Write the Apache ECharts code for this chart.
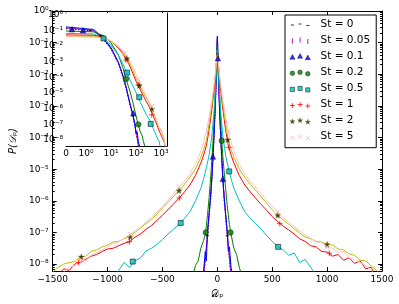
<!DOCTYPE html>
<html><head><meta charset="utf-8">
<script src="https://cdn.jsdelivr.net/npm/echarts@6/dist/echarts.min.js"></script>
<style>html,body{margin:0;padding:0;background:#fff}#c{width:399px;height:304px}</style>
</head><body><div id="c"></div>
<script>
// ---------- tick labels ----------
const xTicks = [-1500, -1000, -500, 0, 500, 1000, 1500];
const xTickLabels = ['\u22121500', '\u22121000', '\u2212500', '0', '500', '1000', '1500'];
const yTickValues = [1e-8, 1e-7, 1e-6, 1e-5, 1e-4, 1e-3, 1e-2, 1e-1, 1];
const yTickLabels = ['10⁻⁸', '10⁻⁷', '10⁻⁶', '10⁻⁵', '10⁻⁴', '10⁻³', '10⁻²', '10⁻¹', '10⁰'];
const insetXTickValues = [0, 1, 10, 100, 1000];
const insetXTickLabels = ['0', '10⁰', '10¹', '10²', '10³'];
const stNames = ['St = 0', 'St = 0.05', 'St = 0.1', 'St = 0.2', 'St = 0.5', 'St = 1', 'St = 2', 'St = 5'];

// ---------- D_p grids ----------
const narrowGrid = [-250,-225,-200,-175,-150,-125,-110,-100,-90,-75,-60,-50,-40,-30,-20,-10,-5,-2,0,2,5,10,20,30,40,50,60,75,90,100,110,125,150,175,200,225,250];
const wideGrid = [-1500,-1450,-1400,-1350,-1300,-1250,-1200,-1150,-1100,-1050,-1000,-950,-900,-850,-800,-750,-700,-650,-600,-550,-500,-450,-400,-350,-300,
  -250,-200,-150,-125,-100,-75,-50,-30,-20,-10,-5,-2,0,2,5,10,20,30,50,75,100,125,150,200,250,
  300,350,400,450,500,550,600,650,700,750,800,850,900,950,1000,1050,1100,1150,1200,1250,1300,1350,1400,1450,1500];

// ---------- P(D_p) per Stokes number ----------
const pSt0 = [null,null,null,null,1.6e-9,4.0e-9,1.26e-8,3.2e-8,7.9e-8,3.2e-7,1.26e-6,4.5e-6,2.0e-5,1.0e-4,7.1e-4,6.3e-3,2.5e-2,8.9e-2,0.126,8.9e-2,2.5e-2,6.3e-3,7.1e-4,1.0e-4,2.0e-5,4.5e-6,1.26e-6,3.2e-7,7.9e-8,3.2e-8,1.4e-8,4.5e-9,1.6e-9,null,null,null,null];
const pSt005 = [null,null,null,null,2.0e-9,5.0e-9,1.6e-8,3.5e-8,1.0e-7,4.0e-7,1.6e-6,5.6e-6,2.5e-5,1.26e-4,7.9e-4,7.1e-3,2.8e-2,0.1,0.141,0.1,2.8e-2,7.1e-3,7.9e-4,1.26e-4,2.5e-5,5.6e-6,1.6e-6,4.0e-7,1.0e-7,4.0e-8,1.6e-8,4.0e-9,2.0e-9,null,null,null,null];
const pSt01 = [null,null,null,null,2.5e-9,6.3e-9,2.5e-8,1.26e-8,1.0e-7,4.0e-7,1.8e-6,5.6e-6,2.5e-5,1.26e-4,8.9e-4,7.9e-3,3.2e-2,0.112,0.162,0.112,3.2e-2,7.9e-3,8.9e-4,1.26e-4,2.5e-5,5.0e-6,1.6e-6,4.0e-7,1.12e-7,2.5e-8,3.5e-8,7.9e-9,2.5e-9,null,null,null,null];
const pSt02 = [null,4.0e-9,8.9e-9,1.26e-8,3.2e-8,5.6e-8,8.9e-8,1.6e-7,3.5e-7,1.26e-6,6.3e-6,2.0e-5,7.1e-5,4.0e-4,2.5e-3,1.6e-2,4.5e-2,7.9e-2,8.9e-2,7.9e-2,4.5e-2,1.6e-2,2.5e-3,4.0e-4,7.9e-5,2.5e-5,1.0e-5,2.5e-6,7.1e-7,3.5e-7,1.8e-7,8.9e-8,3.2e-8,2.0e-8,7.9e-9,4.0e-9,null];
const pSt05 = [null,null,null,null,null,null,null,null,null,null,2.0e-9,4.0e-9,6.3e-9,1.12e-8,7.9e-9,1.26e-8,1.58e-8,2.6e-8,3.16e-8,4.2e-8,6.0e-8,8.9e-8,1.26e-7,1.78e-7,2.8e-7,
  4.5e-7,1.0e-6,2.5e-6,5.0e-6,1.12e-5,2.8e-5,1.12e-4,7.1e-4,2.5e-3,1.12e-2,3.16e-2,5.8e-2,6.3e-2,5.8e-2,3.16e-2,1.12e-2,2.5e-3,7.1e-4,1.12e-4,2.8e-5,1.12e-5,5.0e-6,2.5e-6,1.0e-6,4.5e-7,
  2.8e-7,1.9e-7,1.26e-7,7.9e-8,5.2e-8,3.5e-8,2.8e-8,1.9e-8,2.24e-8,1.12e-8,1.41e-8,7.9e-9,4.5e-9,2.5e-9,null,null,null,null,null,null,null,null,null,null,null];
const pSt1 = [2.5e-9,4.5e-9,7.1e-9,6.3e-9,1.0e-8,1.12e-8,1.41e-8,1.78e-8,2.0e-8,2.5e-8,3.0e-8,3.16e-8,3.8e-8,4.5e-8,5.1e-8,7.1e-8,8.9e-8,1.26e-7,1.66e-7,2.4e-7,3.5e-7,5.2e-7,7.9e-7,1.2e-6,1.9e-6,
  3.16e-6,6.3e-6,1.58e-5,2.8e-5,5.6e-5,1.78e-4,7.9e-4,3.16e-3,7.1e-3,2.0e-2,3.5e-2,4.8e-2,5.0e-2,4.8e-2,3.5e-2,2.0e-2,7.1e-3,3.16e-3,7.9e-4,1.78e-4,5.6e-5,2.8e-5,1.58e-5,6.3e-6,3.16e-6,
  1.9e-6,1.2e-6,7.6e-7,5.0e-7,3.16e-7,2.2e-7,1.58e-7,1.2e-7,8.9e-8,6.3e-8,5.2e-8,3.8e-8,3.5e-8,2.5e-8,2.4e-8,1.78e-8,2.0e-8,1.32e-8,1.58e-8,1.05e-8,1.26e-8,7.1e-9,7.9e-9,4.0e-9,3.16e-9];
const pSt2 = [5.6e-9,7.9e-9,1.0e-8,1.12e-8,1.2e-8,1.66e-8,1.78e-8,2.5e-8,2.8e-8,3.5e-8,4.0e-8,5.0e-8,5.2e-8,6.3e-8,7.2e-8,1.0e-7,1.38e-7,1.9e-7,2.6e-7,3.8e-7,6.0e-7,8.9e-7,1.38e-6,2.1e-6,3.3e-6,
  5.6e-6,1.0e-5,2.4e-5,4.2e-5,7.9e-5,2.8e-4,1.12e-3,4.0e-3,7.9e-3,2.0e-2,3.3e-2,4.0e-2,4.2e-2,4.0e-2,3.3e-2,2.0e-2,7.9e-3,4.0e-3,1.12e-3,2.8e-4,7.9e-5,4.2e-5,2.4e-5,1.0e-5,5.6e-6,
  3.3e-6,2.1e-6,1.32e-6,8.3e-7,5.2e-7,3.5e-7,2.5e-7,1.82e-7,1.32e-7,9.5e-8,7.2e-8,6.3e-8,5.2e-8,5.0e-8,4.2e-8,4.0e-8,3.0e-8,2.8e-8,2.1e-8,1.9e-8,1.32e-8,1.26e-8,8.9e-9,6.3e-9,4.5e-9];
const pSt5 = [2.5e-9,4.0e-9,5.6e-9,7.9e-9,8.9e-9,1.32e-8,1.26e-8,1.9e-8,2.24e-8,2.8e-8,3.5e-8,4.5e-8,5.0e-8,6.6e-8,8.3e-8,1.12e-7,1.51e-7,2.1e-7,3.0e-7,4.4e-7,6.6e-7,1.05e-6,1.66e-6,2.75e-6,4.2e-6,
  7.1e-6,1.41e-5,3.8e-5,7.1e-5,1.58e-4,4.5e-4,1.58e-3,5.0e-3,1.0e-2,2.1e-2,3.16e-2,3.6e-2,3.8e-2,3.6e-2,3.16e-2,2.1e-2,1.0e-2,5.0e-3,1.58e-3,4.5e-4,1.58e-4,7.1e-5,3.8e-5,1.41e-5,7.1e-6,
  4.2e-6,2.6e-6,1.66e-6,1.05e-6,6.6e-7,4.4e-7,3.0e-7,2.1e-7,1.51e-7,1.12e-7,8.3e-8,6.6e-8,5.0e-8,4.7e-8,3.5e-8,3.16e-8,2.4e-8,2.5e-8,1.58e-8,1.41e-8,1.12e-8,8.9e-9,6.3e-9,4.5e-9,3.16e-9];

// ---------- marker points (main panel) ----------
const mkSt0 = [[-90, 7.9e-8], [90, 7.9e-8]];
const mkSt005 = [[-40, 2.5e-5], [60, 1.6e-6]];
const mkSt01 = [[-40, 2.5e-5], [5, 3.2e-2], [50, 5.0e-6]];
const mkSt02 = [[-105, 1.0e-7], [40, 7.9e-5], [120, 1.0e-7]];
const mkSt05 = [[-771, 1.2e-8], [-334, 2.0e-7], [108, 8.5e-6], [554, 3.5e-8]];
const mkSt1 = [[-1264, 1.12e-8], [-800, 5.1e-8], [-346, 1.23e-6], [105, 4.9e-5], [569, 1.9e-7], [1020, 2.2e-8]];
const mkSt2 = [[-1240, 1.7e-8], [-794, 7.2e-8], [-349, 2.1e-6], [94, 8.5e-5], [550, 3.5e-7], [1000, 4.2e-8]];
const mkSt5 = [[-1230, 1.3e-8], [-790, 8.5e-8], [-346, 2.8e-6], [100, 1.58e-4], [550, 4.4e-7], [1000, 3.5e-8]];

// ---------- marker points (inset, D_p > 0) ----------
const inSt0 = [[0.3, 0.11], [1.5, 0.095], [4, 4.5e-2]];
const inSt01 = [[0.3, 0.115], [0.85, 0.1], [78, 5.1e-7]];
const inSt02 = [[40, 7.9e-5], [124, 1.0e-7]];
const inSt05 = [[5, 3.0e-2], [44, 2.0e-4], [135, 5.4e-6], [387, 1.07e-7]];
const inSt1 = [[40, 1.26e-3], [124, 3.2e-5], [427, 4.0e-7]];
const inSt2 = [[43, 1.6e-3], [135, 3.0e-5], [430, 1.0e-6]];
const inSt5 = [[36, 3.4e-3], [123, 7.5e-5], [427, 1.3e-6]];

// ---------- chart ----------
const FONT = 'DejaVu Sans';
const yMainMin = 6.0e-9, yMainMax = 1;
const yInMin = 4.2e-9, yInMax = 1.25;
const LIN = 0.8;
const symlog = d => d <= 1 ? LIN * d : LIN + Math.log10(d);
const clean = v => (v == null ? '-' : v);
const pairs = (grid, vals) => grid.map((d, i) => [d, clean(vals[i])]);
const insetPairs = (grid, vals) => grid.map((d, i) => [d, vals[i]]).filter(p => p[0] >= 0).map(p => [symlog(p[0]), clean(p[1])]);
const insetPts = pts => pts.map(p => [symlog(p[0]), p[1]]);

const minorVals = (lo, hi) => { const out = []; for (let e = -10; e <= 0; e++) for (let m = 2; m <= 9; m++) { const v = m * Math.pow(10, e); if (v > lo && v < hi) out.push(v); } return out; };
const yLabelFmt = v => { const e = Math.round(Math.log10(v)); const i = yTickValues.findIndex(t => Math.round(Math.log10(t)) === e); return i >= 0 ? yTickLabels[i] : ''; };
const xLabelFmt = v => { const i = xTicks.findIndex(t => Math.abs(t - v) < 1e-6); return i >= 0 ? xTickLabels[i] : ''; };
const inXFmt = v => { const i = insetXTickValues.findIndex(t => Math.abs(symlog(t) - v) < 1e-6); return i >= 0 ? insetXTickLabels[i] : ''; };

const lines = [
  { grid: narrowGrid, vals: pSt0, color: '#000000', type: [1.5, 1.5] },
  { grid: narrowGrid, vals: pSt005, color: '#bf00bf', type: 'solid' },
  { grid: narrowGrid, vals: pSt01, color: '#0000ff', type: 'solid' },
  { grid: narrowGrid, vals: pSt02, color: '#008000', type: 'solid' },
  { grid: wideGrid, vals: pSt05, color: '#00bfbf', type: 'solid' },
  { grid: wideGrid, vals: pSt1, color: '#ff0000', type: 'solid' },
  { grid: wideGrid, vals: pSt2, color: '#bfbf00', type: 'solid' },
  { grid: wideGrid, vals: pSt5, color: '#ffc0cb', type: 'solid' }
];

const BB = 'M0,0 M21,8 ';
const markers = [
  { pts: mkSt0, ins: inSt0, symbol: 'rect', size: [3, 1.2], style: { color: '#000', borderWidth: 0 },
    icon: 'path://' + BB + 'M1.3,5H4.3M9,4H12M16.7,5.5H19.7', lstyle: { color: '#000', borderColor: '#000', borderWidth: 1 } },
  { pts: mkSt005, ins: [], symbol: 'rect', size: [1.2, 5], style: { color: '#bf00bf', borderWidth: 0 },
    icon: 'path://' + BB + 'M2.8,2.5V7.5M10.5,1.5V6.5M18.2,3V8', lstyle: { color: '#bf00bf', borderColor: '#bf00bf', borderWidth: 1.2 } },
  { pts: mkSt01, ins: inSt01, symbol: 'triangle', size: 5.5, style: { color: '#0000ff', borderColor: '#000', borderWidth: 0.5 },
    icon: 'path://' + BB + 'M2.8,2.4L5.4,7L0.2,7ZM10.5,1.4L13.1,6L7.9,6ZM18.2,2.9L20.8,7.5L15.6,7.5Z', lstyle: { color: '#0000ff', borderColor: '#000', borderWidth: 0.5 } },
  { pts: mkSt02, ins: inSt02, symbol: 'circle', size: 5.5, style: { color: '#008000', borderColor: '#000', borderWidth: 0.5 },
    icon: 'path://' + BB + 'M0.5,5A2.3,2.3 0 1 0 5.1,5A2.3,2.3 0 1 0 0.5,5ZM8.2,4A2.3,2.3 0 1 0 12.8,4A2.3,2.3 0 1 0 8.2,4ZM15.9,5.5A2.3,2.3 0 1 0 20.5,5.5A2.3,2.3 0 1 0 15.9,5.5Z', lstyle: { color: '#008000', borderColor: '#000', borderWidth: 0.5 } },
  { pts: mkSt05, ins: inSt05, symbol: 'rect', size: 5, style: { color: '#00bfbf', borderColor: '#000', borderWidth: 0.7 },
    icon: 'path://' + BB + 'M0.7,2.9h4.2v4.2h-4.2ZM8.4,1.9h4.2v4.2h-4.2ZM16.1,3.4h4.2v4.2h-4.2Z', lstyle: { color: '#00bfbf', borderColor: '#000', borderWidth: 0.6 } },
  { pts: mkSt1, ins: inSt1, symbol: 'path://M0,5L10,5M5,0L5,10', size: 5.5, style: { color: '#ff0000', borderColor: '#ff0000', borderWidth: 1 },
    icon: 'path://' + BB + 'M0.4,5H5.2M2.8,2.6V7.4M8.1,4H12.9M10.5,1.6V6.4M15.8,5.5H20.6M18.2,3.1V7.9', lstyle: { color: '#ff0000', borderColor: '#ff0000', borderWidth: 1 } },
  { pts: mkSt2, ins: inSt2, symbol: 'path://M0,-10L2.35,-3.24L9.51,-3.09L3.8,1.24L5.88,8.09L0,4L-5.88,8.09L-3.8,1.24L-9.51,-3.09L-2.35,-3.24Z', size: 6, style: { color: '#1a1a00', borderColor: '#6a6a00', borderWidth: 0.4 },
    icon: 'path://' + BB + 'M2.8,2.2L3.45,4.11L5.46,4.13L3.85,5.34L4.45,7.27L2.8,6.1L1.15,7.27L1.75,5.34L0.14,4.13L2.15,4.11ZM10.5,1.2L11.15,3.11L13.16,3.13L11.55,4.34L12.15,6.27L10.5,5.1L8.85,6.27L9.45,4.34L7.84,3.13L9.85,3.11ZM18.2,2.7L18.85,4.61L20.86,4.63L19.25,5.84L19.85,7.77L18.2,6.6L16.55,7.77L17.15,5.84L15.54,4.63L17.55,4.61Z', lstyle: { color: '#1a1a00', borderColor: '#6a6a00', borderWidth: 0.4 } },
  { pts: mkSt5, ins: inSt5, symbol: 'path://M0,0L10,10M10,0L0,10', size: 5.5, style: { color: '#ffc0cb', borderColor: '#ffb0bd', borderWidth: 1 },
    icon: 'path://' + BB + 'M0.8,3L4.8,7M4.8,3L0.8,7M8.5,2L12.5,6M12.5,2L8.5,6M16.2,3.5L20.2,7.5M20.2,3.5L16.2,7.5', lstyle: { color: '#ffc0cb', borderColor: '#ffb0bd', borderWidth: 1 } }
];

const series = [];
lines.forEach((l, k) => {
  series.push({ name: stNames[k] + ' line', type: 'line', xAxisIndex: 0, yAxisIndex: 0, data: pairs(l.grid, l.vals),
    showSymbol: false, symbol: 'none', clip: true, silent: true, z: 2, lineStyle: { color: l.color, width: 1, type: l.type } });
  series.push({ name: stNames[k] + ' inset', type: 'line', xAxisIndex: 2, yAxisIndex: 4, data: insetPairs(l.grid, l.vals),
    showSymbol: false, symbol: 'none', clip: true, silent: true, z: 5, lineStyle: { color: l.color, width: 1, type: l.type } });
});
markers.forEach((m, k) => {
  series.push({ name: stNames[k], type: 'scatter', xAxisIndex: 0, yAxisIndex: 0, data: m.pts, symbol: m.symbol, symbolSize: m.size,
    itemStyle: m.style, z: 3, silent: true, clip: true });
  if (m.ins.length) series.push({ name: stNames[k] + ' insetmk', type: 'scatter', xAxisIndex: 2, yAxisIndex: 4, data: insetPts(m.ins),
    symbol: m.symbol, symbolSize: m.size, itemStyle: m.style, z: 6, silent: true, clip: true });
});

const lblStyle = { fontFamily: FONT, fontSize: 9, color: '#000' };
const axLine = { show: true, onZero: false, lineStyle: { color: '#000', width: 1 } };
const noLine = { show: false, onZero: false };
const tickMajor = (vals, len) => ({ show: true, inside: true, length: len, lineStyle: { color: '#000', width: 1 }, customValues: vals });

const option = {
  animation: false,
  backgroundColor: '#fff',
  grid: [
    { left: 41, top: 11, width: 341, height: 262, show: false },
    { left: 66, top: 13, width: 101, height: 133, show: true, backgroundColor: '#fff', borderWidth: 0, z: 4 }
  ],
  xAxis: [
    { type: 'value', gridIndex: 0, position: 'bottom', min: -1500, max: 1500, interval: 500,
      axisLine: axLine, axisTick: { show: true, inside: true, length: 4, lineStyle: { color: '#000' } }, splitLine: { show: false },
      axisLabel: Object.assign({ margin: 4, formatter: xLabelFmt }, lblStyle),
      name: '𝒟ₚ', nameLocation: 'middle', nameGap: 14, nameTextStyle: { fontFamily: FONT, fontSize: 10, color: '#000' } },
    { type: 'value', gridIndex: 0, position: 'top', min: -1500, max: 1500, interval: 500,
      axisLine: axLine, axisTick: { show: true, inside: true, length: 4, lineStyle: { color: '#000' } }, splitLine: { show: false }, axisLabel: { show: false } },
    { type: 'value', gridIndex: 1, position: 'bottom', min: 0, max: 4.04,
      axisLine: axLine, axisTick: tickMajor(insetXTickValues.map(symlog), 3), splitLine: { show: false },
      axisLabel: Object.assign({ margin: 3, formatter: inXFmt, customValues: insetXTickValues.map(symlog), showMinLabel: true, showMaxLabel: true }, lblStyle) },
    { type: 'value', gridIndex: 1, position: 'top', min: 0, max: 4.04,
      axisLine: axLine, axisTick: tickMajor(insetXTickValues.map(symlog), 3), splitLine: { show: false }, axisLabel: { show: false } }
  ],
  yAxis: [
    { type: 'log', logBase: 10, gridIndex: 0, position: 'left', min: yMainMin, max: yMainMax,
      axisLine: axLine, axisTick: tickMajor(yTickValues, 4), splitLine: { show: false }, minorTick: { show: false },
      axisLabel: Object.assign({ margin: 4, formatter: yLabelFmt, customValues: yTickValues }, lblStyle),
      name: 'P(𝒟ₚ)', nameLocation: 'middle', nameGap: 27, nameRotate: 90,
      nameTextStyle: { fontFamily: FONT, fontSize: 10, color: '#000', fontStyle: 'italic' } },
    { type: 'log', logBase: 10, gridIndex: 0, position: 'left', min: yMainMin, max: yMainMax,
      axisLine: noLine, axisTick: tickMajor(minorVals(yMainMin, yMainMax), 2), splitLine: { show: false }, axisLabel: { show: false } },
    { type: 'log', logBase: 10, gridIndex: 0, position: 'right', min: yMainMin, max: yMainMax,
      axisLine: axLine, axisTick: tickMajor(yTickValues, 4), splitLine: { show: false }, axisLabel: { show: false } },
    { type: 'log', logBase: 10, gridIndex: 0, position: 'right', min: yMainMin, max: yMainMax,
      axisLine: noLine, axisTick: tickMajor(minorVals(yMainMin, yMainMax), 2), splitLine: { show: false }, axisLabel: { show: false } },
    { type: 'log', logBase: 10, gridIndex: 1, position: 'left', min: yInMin, max: yInMax,
      axisLine: axLine, axisTick: tickMajor(yTickValues, 3), splitLine: { show: false },
      axisLabel: Object.assign({ margin: 3, formatter: yLabelFmt, customValues: yTickValues }, lblStyle) },
    { type: 'log', logBase: 10, gridIndex: 1, position: 'right', min: yInMin, max: yInMax,
      axisLine: axLine, axisTick: tickMajor(yTickValues, 3), splitLine: { show: false }, axisLabel: { show: false } }
  ],
  legend: {
    orient: 'vertical', left: 285, top: 15, padding: [3, 6, 5, 4],
    itemWidth: 21, itemHeight: 8, itemGap: 4.1,
    backgroundColor: '#fff', borderColor: '#000', borderWidth: 1, borderRadius: 0,
    textStyle: { fontFamily: FONT, fontSize: 10.5, color: '#000', lineHeight: 12, padding: [0, 0, 0, 5] },
    selectedMode: false,
    data: markers.map((m, k) => ({ name: stNames[k], icon: m.icon, itemStyle: m.lstyle }))
  },
  series: series
};

const chart = echarts.init(document.getElementById('c'), null, { renderer: 'canvas' });
chart.setOption(option);
</script>
</body></html>
